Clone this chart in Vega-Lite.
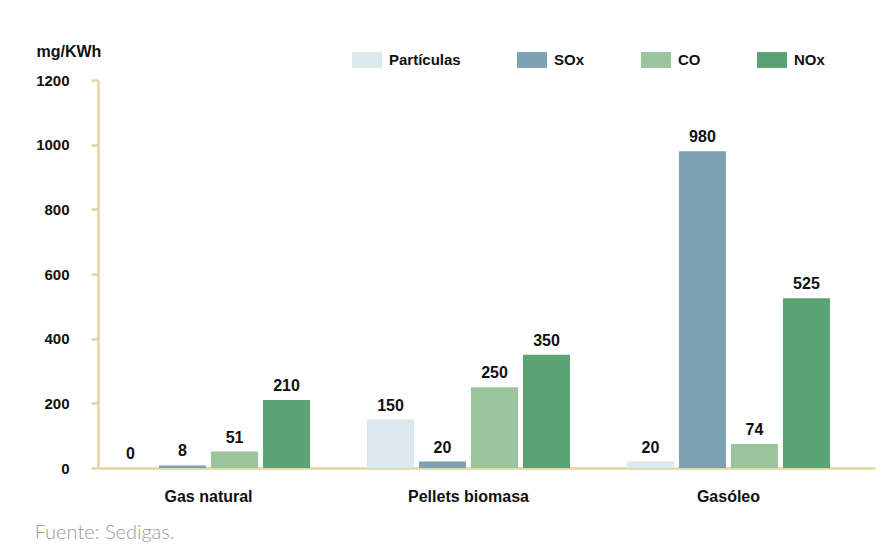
{
  "$schema": "https://vega.github.io/schema/vega-lite/v6.json",
  "width": 777,
  "height": 388,
  "autosize": {"type": "none"},
  "padding": {"left": 98, "top": 80, "right": 21, "bottom": 83},
  "background": "white",
  "title": {
    "text": "Fuente: Sedigas.",
    "orient": "bottom",
    "anchor": "start",
    "frame": "bounds",
    "offset": 19,
    "dx": -1,
    "font": "Lato",
    "fontWeight": 300,
    "fontSize": 20,
    "color": "#9a9a9a"
  },
  "data": {
    "values": [
      {"fuel": "Gas natural", "pollutant": "Partículas", "value": 0},
      {"fuel": "Gas natural", "pollutant": "SOx", "value": 8},
      {"fuel": "Gas natural", "pollutant": "CO", "value": 51},
      {"fuel": "Gas natural", "pollutant": "NOx", "value": 210},
      {"fuel": "Pellets biomasa", "pollutant": "Partículas", "value": 150},
      {"fuel": "Pellets biomasa", "pollutant": "SOx", "value": 20},
      {"fuel": "Pellets biomasa", "pollutant": "CO", "value": 250},
      {"fuel": "Pellets biomasa", "pollutant": "NOx", "value": 350},
      {"fuel": "Gasóleo", "pollutant": "Partículas", "value": 20},
      {"fuel": "Gasóleo", "pollutant": "SOx", "value": 980},
      {"fuel": "Gasóleo", "pollutant": "CO", "value": 74},
      {"fuel": "Gasóleo", "pollutant": "NOx", "value": 525}
    ]
  },
  "encoding": {
    "x": {
      "field": "fuel",
      "type": "nominal",
      "sort": ["Gas natural", "Pellets biomasa", "Gasóleo"],
      "scale": {"paddingInner": 0.219, "paddingOuter": 0.104, "align": 0.167},
      "axis": {
        "title": null,
        "labelAngle": 0,
        "ticks": false,
        "domain": true,
        "domainColor": "#e4d49f",
        "domainWidth": 2.5,
        "labelFont": "Liberation Sans",
        "labelFontWeight": "bold",
        "labelFontSize": 16,
        "labelColor": "#111111",
        "labelPadding": 20
      }
    },
    "xOffset": {
      "field": "pollutant",
      "type": "nominal",
      "sort": ["Partículas", "SOx", "CO", "NOx"],
      "scale": {"paddingInner": 0.096, "paddingOuter": 0}
    },
    "y": {
      "field": "value",
      "type": "quantitative",
      "scale": {"domain": [0, 1200], "nice": false},
      "axis": {
        "title": "mg/KWh",
        "titleAngle": 0,
        "titleAlign": "left",
        "titleBaseline": "middle",
        "titleX": -62,
        "titleY": -29,
        "titleFont": "Liberation Sans",
        "titleFontWeight": "bold",
        "titleFontSize": 16,
        "titleColor": "#111111",
        "values": [0, 200, 400, 600, 800, 1000, 1200],
        "format": "d",
        "grid": false,
        "domainColor": "#e4d49f",
        "domainWidth": 2.5,
        "tickColor": "#e4d49f",
        "tickWidth": 2.5,
        "tickSize": 7,
        "labelFont": "Liberation Sans",
        "labelFontWeight": "bold",
        "labelFontSize": 15,
        "labelColor": "#111111",
        "labelPadding": 22
      }
    }
  },
  "layer": [
    {
      "mark": {"type": "bar"},
      "encoding": {
        "color": {
          "field": "pollutant",
          "type": "nominal",
          "sort": ["Partículas", "SOx", "CO", "NOx"],
          "scale": {
            "domain": ["Partículas", "SOx", "CO", "NOx"],
            "range": ["#dbe8ed", "#7ea1b1", "#9ac59c", "#5ca374"]
          },
          "legend": {
            "title": null,
            "orient": "none",
            "direction": "horizontal",
            "legendX": 254,
            "legendY": -35,
            "symbolType": "M-1,-0.53H1V0.53H-1Z",
            "symbolSize": 900,
            "symbolStrokeWidth": 0,
            "labelFont": "Liberation Sans",
            "labelFontWeight": "bold",
            "labelFontSize": 15,
            "labelColor": "#111111",
            "labelOffset": 7,
            "columnPadding": 56
          }
        }
      }
    },
    {
      "mark": {
        "type": "text",
        "dy": -14,
        "font": "Liberation Sans",
        "fontWeight": "bold",
        "fontSize": 16,
        "color": "#111111"
      },
      "encoding": {
        "text": {"field": "value", "type": "quantitative"}
      }
    }
  ],
  "config": {
    "view": {"stroke": null}
  }
}
